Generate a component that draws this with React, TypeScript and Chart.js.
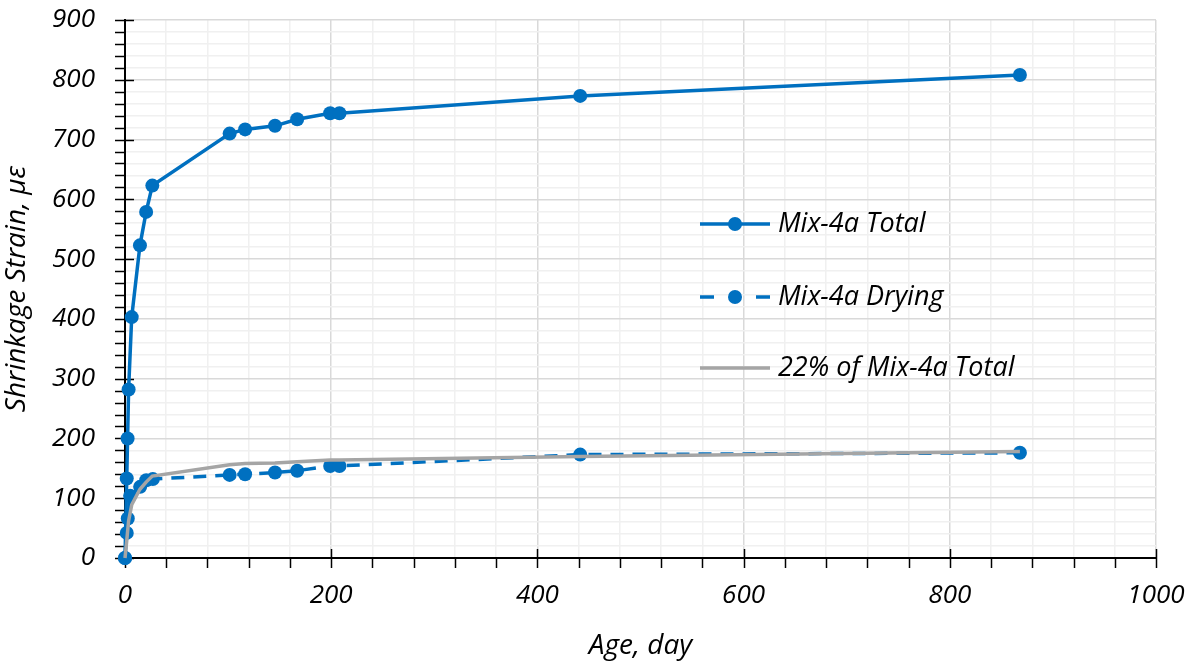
import React, { useEffect, useRef } from "react";
import { Chart, registerables } from "chart.js";

Chart.register(...registerables);

const totalDays = [0, 1.7, 2.5, 3.5, 6.5, 14.5, 20.5, 26.5, 101.5, 116.5, 145.5, 167, 199, 208, 441.5, 868];
const totalStrain = [0, 133, 200, 282, 403, 523, 579, 623, 710, 717, 723, 734, 744, 744, 773, 808];

const dryingDays = [0, 1.7, 2.7, 5, 14.7, 20.6, 27, 101.5, 116.5, 145.5, 167, 199, 208, 441.5, 868];
const dryingStrain = [0, 42, 66, 104, 119, 130, 132, 139, 140, 143, 146, 154, 154, 173, 176];

const pctDays = [0, 1.7, 2.5, 3.5, 6.5, 14.5, 20.5, 26.5, 101.5, 116.5, 145.5, 167, 199, 208, 441.5, 868];
const pctStrain = [0, 29, 44, 62, 89, 115, 127, 137, 156, 158, 159, 161, 164, 164, 170, 178];

const seriesLabels = ["Mix-4a Total", "Mix-4a Drying", "22% of Mix-4a Total"];
const xTitle = "Age, day";
const yTitle = "Shrinkage Strain, \u03bc\u03b5";

const BLUE = "#0070C0";
const GRAY = "#A5A5A5";
const FONT = "'Open Sans', 'DejaVu Sans', sans-serif";

const toXY = (xs: number[], ys: number[]) => xs.map((x, i) => ({ x, y: ys[i] }));

const tickPlugin = {
  id: "tickMarks",
  beforeDatasetsDraw(chart: any) {
    const { ctx, chartArea, scales } = chart;
    const xs = scales.x;
    const ys = scales.y;
    ctx.save();
    ctx.strokeStyle = "#000";
    ctx.lineWidth = 1.5;
    const ax = chartArea.left;
    const ay = chartArea.bottom;
    for (let v = 0; v <= 900; v += 20) {
      const py = Math.round(ys.getPixelForValue(v)) + 0.5;
      const major = v % 100 === 0;
      ctx.beginPath();
      ctx.moveTo(ax - 10, py);
      ctx.lineTo(major ? ax + 9 : ax, py);
      ctx.stroke();
    }
    for (let v = 0; v <= 1000; v += 40) {
      const px = Math.round(xs.getPixelForValue(v)) + 0.5;
      const major = v % 200 === 0;
      ctx.beginPath();
      ctx.moveTo(px, major ? ay - 9 : ay);
      ctx.lineTo(px, ay + 10);
      ctx.stroke();
    }
    ctx.restore();
  },
};

const legendPlugin = {
  id: "insideLegend",
  afterDraw(chart: any) {
    const { ctx } = chart;
    const rows = [224, 297, 368];
    const x0 = 700;
    const x1 = 770;
    ctx.save();
    chart.data.datasets.forEach((ds: any, i: number) => {
      const y = rows[i];
      ctx.strokeStyle = ds.borderColor;
      ctx.lineWidth = ds.borderWidth;
      ctx.beginPath();
      if (ds.borderDash && ds.borderDash.length) {
        ctx.moveTo(x0, y);
        ctx.lineTo(714, y);
        ctx.moveTo(756, y);
        ctx.lineTo(x1, y);
      } else {
        ctx.moveTo(x0, y);
        ctx.lineTo(x1, y);
      }
      ctx.stroke();
      if (ds.pointRadius > 0) {
        ctx.fillStyle = ds.backgroundColor;
        ctx.beginPath();
        ctx.arc((x0 + x1) / 2, y, ds.pointRadius, 0, Math.PI * 2);
        ctx.fill();
      }
      ctx.fillStyle = "#000";
      ctx.font = `italic 27px ${FONT}`;
      ctx.textBaseline = "middle";
      ctx.textAlign = "left";
      ctx.fillText(ds.label, 778, y);
    });
    ctx.restore();
  },
};

export default function App() {
  const ref = useRef<HTMLCanvasElement | null>(null);

  useEffect(() => {
    if (!ref.current) return;
    const chart = new Chart(ref.current, {
      type: "scatter",
      data: {
        datasets: [
          {
            label: seriesLabels[0],
            data: toXY(totalDays, totalStrain),
            showLine: true,
            borderColor: BLUE,
            backgroundColor: BLUE,
            borderWidth: 3.5,
            pointRadius: 7,
            pointHoverRadius: 7,
            pointBorderWidth: 0,
            clip: false,
            order: 2,
          },
          {
            label: seriesLabels[1],
            data: toXY(dryingDays, dryingStrain),
            showLine: true,
            borderColor: BLUE,
            backgroundColor: BLUE,
            borderWidth: 3.5,
            borderDash: [13, 9],
            pointRadius: 7,
            pointHoverRadius: 7,
            pointBorderWidth: 0,
            clip: false,
            order: 1,
          },
          {
            label: seriesLabels[2],
            data: toXY(pctDays, pctStrain),
            showLine: true,
            borderColor: GRAY,
            backgroundColor: GRAY,
            borderWidth: 3.5,
            pointRadius: 0,
            pointHoverRadius: 0,
            clip: false,
            order: 0,
          },
        ],
      },
      options: {
        animation: false,
        responsive: false,
        maintainAspectRatio: false,
        layout: { padding: { left: 0, right: 40, top: 20, bottom: 0 } },
        plugins: {
          legend: { display: false },
          tooltip: { enabled: false },
        },
        scales: {
          x: {
            type: "linear",
            min: 0,
            max: 1000,
            afterFit(scale: any) {
              scale.height = 107;
              scale.paddingLeft = 0;
              scale.paddingRight = 0;
            },
            ticks: {
              stepSize: 40,
              autoSkip: false,
              maxRotation: 0,
              padding: 22,
              color: "#000",
              font: { family: FONT, size: 26, style: "italic" },
              callback: (v: any) => (Number(v) % 200 === 0 ? String(v) : ""),
            },
            grid: {
              drawTicks: false,
              color: (c: any) => (c.tick && c.tick.value % 200 === 0 ? "#D9D9D9" : "#F0F0F0"),
              lineWidth: 1.5,
            },
            border: { display: true, color: "#000", width: 2 },
            title: {
              display: true,
              text: xTitle,
              color: "#000",
              font: { family: FONT, size: 28, style: "italic" },
              padding: { top: 12, bottom: 2 },
            },
          },
          y: {
            type: "linear",
            min: 0,
            max: 900,
            afterFit(scale: any) {
              scale.width = 125;
              scale.paddingTop = 0;
              scale.paddingBottom = 0;
            },
            ticks: {
              stepSize: 20,
              autoSkip: false,
              padding: 30,
              color: "#000",
              font: { family: FONT, size: 26, style: "italic" },
              callback: (v: any) => (Number(v) % 100 === 0 ? String(v) : ""),
            },
            grid: {
              drawTicks: false,
              color: (c: any) => (c.tick && c.tick.value % 100 === 0 ? "#D9D9D9" : "#F0F0F0"),
              lineWidth: 1.5,
            },
            border: { display: true, color: "#000", width: 2 },
            title: {
              display: true,
              text: yTitle,
              color: "#000",
              font: { family: FONT, size: 28, style: "italic" },
              padding: { top: 0, bottom: 0 },
            },
          },
        },
      },
      plugins: [tickPlugin, legendPlugin],
    });
    return () => chart.destroy();
  }, []);

  return (
    <div style={{ position: "absolute", left: 0, top: 0, width: 1196, height: 665, background: "#fff" }}>
      <canvas ref={ref} width={1196} height={665} style={{ display: "block" }} />
    </div>
  );
}
